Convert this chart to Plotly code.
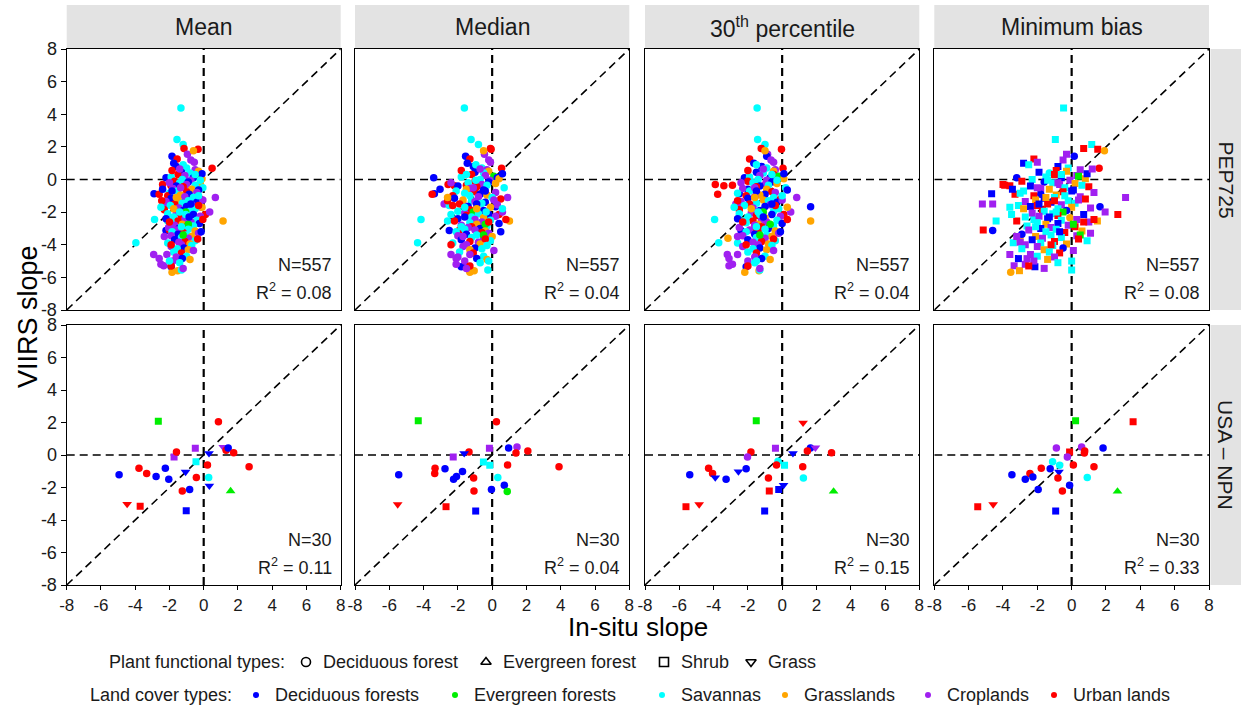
import plotly.graph_objects as go

# ---------------- data ----------------
methods = ["Mean", "Median", "30<sup>th</sup> percentile", "Minimum bias"]
networks = ["PEP725", "USA – NPN"]
n_labels = ["N=557", "N=557", "N=557", "N=557", "N=30", "N=30", "N=30", "N=30"]
r2_labels = ["0.08", "0.04", "0.04", "0.08", "0.11", "0.04", "0.15", "0.33"]
tick_vals = [-8, -6, -4, -2, 0, 2, 4, 6, 8]
tick_text = ["-8", "-6", "-4", "-2", "0", "2", "4", "6", "8"]

lc_names = ["Deciduous forests", "Evergreen forests", "Savannas", "Grasslands", "Croplands", "Urban lands"]
lc_colors = ["#0000FF", "#00EE00", "#00FFFF", "#FFA500", "#A020F0", "#FF0000"]
lc_codes = ["B", "G", "C", "O", "P", "R"]
pft_names = ["Deciduous forest", "Evergreen forest", "Shrub", "Grass"]
pft_codes = ["D", "E", "S", "G"]
pft_symbols = ["circle", "triangle-up", "square", "triangle-down"]

# PEP725 (VIIRS slope shared by the four panels)
pep_y = [4.39, 2.45, 2.15, 1.86, 1.90, 1.55, 1.43, 1.76, 1.25, 1.2,
         0.69, 1.0, 1.05, -3.88, -2.45, -2.55, -1.67, -0.88, -0.3, -0.39,
         -0.9, 0.1, -0.6, -4.6, -5.29, -5.35, -5.69, -5.59, -5.55, -4.85,
         -1.1, -2.14, -2.0, -3.6, -3.12, -3.1, -1.5, -1.5, -2.55, -0.35,
         0.8, 0.7, 0.6, 0.5, 0.45, 0.4, 0.3, 0.25, 0.2, 0.15,
         0.1, 0.05, 0.0, -0.05, 0.9, 0.55, 0.35, 0.65, -0.1, -0.15,
         -0.2, -0.25, -0.3, -0.35, -0.4, -0.45, -0.5, -0.55, -0.6, -0.65,
         -0.7, -0.75, -0.8, -0.85, -0.9, -0.95, -1.0, -0.05, -1.05, -1.1,
         -1.15, -1.2, -1.25, -1.3, -1.35, -1.4, -1.45, -1.5, -1.55, -1.6,
         -1.65, -1.7, -1.75, -1.8, -1.85, -1.9, -1.95, -2.0, -1.25, -1.6,
         -2.05, -2.1, -2.15, -2.2, -2.25, -2.3, -2.35, -2.4, -2.45, -2.5,
         -2.55, -2.6, -2.65, -2.7, -2.75, -2.8, -2.85, -2.9, -2.95, -3.0,
         -2.15, -2.75, -3.05, -3.1, -3.15, -3.2, -3.25, -3.3, -3.35, -3.4,
         -3.45, -3.5, -3.55, -3.6, -3.7, -3.75, -3.8, -3.85, -3.9, -3.95,
         -3.4, -3.65, -4.0, -4.05, -4.1, -4.2, -4.25, -4.3, -4.35, -4.45,
         -4.5, -4.6, -4.7, -4.75, -4.85, -4.9, -5.0, -5.1, -5.2, -5.3,
         -5.45, -5.0, -0.5, -0.7, -1.0, -1.3, -1.5, -1.8, -2.0, -2.3,
         -2.6, -2.9, -3.2, -1.1, -0.2, -2.45, 0.3, -1.7, -3.5, -4.0]
pep_lc = ("CCCRRPBORP" "RBPCCOBBRR" "RBBPPBOOCP" "PRPOBRPPCR" "BCPOBCRPGC"
          "BOCPCRBPRB" "COPCBRCPOB" "CRPCBORCPC" "BROCPBCRPC" "BOPCRBCGPR"
          "PCBRPCOBPC" "RPCBOPCRPB" "CGCPOCRPBC" "POCPBCRPCO" "GRPCPBCOPC"
          "RPCPBOPCPR" "PCPBCRBOCB" "RCBOPRCCPR")
pep_x_mean = [-1.33, -1.56, -1.2, -0.33, -1.15, -0.95, -1.85, -0.6, -1.55, -0.75,
              0.49, -1.75, -0.55, -3.96, -2.87, 1.13, -0.2, -2.9, -2.4, -1.9,
              -2.6, -2.2, -2.4, -2.92, -2.34, -1.9, -1.85, -1.52, -1.3, -2.6,
              0.68, 0.1, 0.35, -1.2, -2.2, -2.0, -1.6, -2.3, -2.1, -1.9,
              -1.6, -1.0, -0.5, -0.3, -1.3, -0.8, -1.5, -1.1, -0.4, -1.9,
              -0.6, -0.1, -1.25, -0.75, -1.2, -1.85, -0.1, -1.4, -1.7, -0.9,
              -1.4, -0.2, -1.0, -0.5, -1.6, -1.2, -0.05, -1.8, -0.7, -0.3,
              -1.55, -1.0, -0.4, -2.0, -0.85, -1.35, -2.1, -0.2, -1.1, -0.6,
              -1.9, -0.2, -1.5, -0.9, -2.2, -0.4, -1.25, -1.7, -0.7, -1.95,
              -1.0, -0.1, -1.45, -0.5, -2.3, -1.2, -0.8, -1.05, -0.05, -0.3,
              -1.6, -2.1, -0.6, -1.3, -0.2, -1.75, -0.9, -2.2, -1.1, -0.4,
              -1.5, -0.75, -1.9, -0.25, -1.25, -1.7, -0.6, -1.0, -2.05, -1.45,
              -1.05, -0.9, -0.9, -1.6, -0.5, -1.85, -1.2, -0.3, -1.5, -1.0,
              -1.9, -0.7, -1.3, -0.9, -1.7, -0.5, -1.1, -1.45, -2.1, -0.8,
              -1.2, -0.35, -1.3, -0.7, -1.9, -1.15, -1.55, -0.9, -0.6, -1.75,
              -1.3, -2.15, -1.0, -1.6, -1.25, -0.8, -1.8, -1.4, -2.5, -1.9,
              -1.2, -2.0, -1.35, -1.85, -0.3, -2.45, -0.75, -1.75, -1.4, -0.85,
              -2.0, -1.3, -0.15, -1.6, -2.0, -0.05, -0.5, -2.5, -2.3, -1.9]
pep_x_median = [-1.62, -1.23, -0.8, -0.06, -0.10, -0.45, -1.55, -0.5, -1.3, -0.2,
                0.55, -1.45, -0.1, -4.35, -4.15, 1.01, 0.2, -3.37, -2.57, -2.2,
                -3.5, -3.41, -3.04, -2.4, -1.55, -1.8, -1.3, -1.05, -0.25, -2.1,
                0.9, 0.4, 0.6, -0.3, -2.5, -1.9, -2.8, -1.7, -2.6, -1.5,
                -1.1, -0.6, -0.3, -0.2, -1.0, -0.5, -1.2, -0.4, 0.1, -1.8,
                0.3, 0.4, -0.7, -0.15, -0.95, -1.8, 0.6, -0.7, -1.0, -0.2,
                -1.4, 0.2, -0.6, -0.3, -2.0, -0.9, 0.7, -1.3, -1.5, -0.5,
                -2.1, -1.0, 0.2, -1.6, -0.7, -0.3, -2.3, -0.95, -0.8, 0.0,
                -2.2, 0.5, -1.7, -1.2, -1.0, -0.4, -0.6, -1.9, 0.3, -2.5,
                -1.4, -0.1, -0.9, 0.6, -1.3, -0.5, -2.0, -1.1, 0.1, -2.3,
                -1.6, -0.8, -0.2, -1.5, 0.2, -1.2, -0.5, -2.0, -1.0, -0.1,
                -2.2, -0.6, -1.3, 0.4, -0.9, -1.8, -0.3, -1.2, -1.4, -0.7,
                -2.4, -0.4, -1.6, -1.0, -0.4, -2.1, -0.6, -0.2, -1.5, -0.9,
                -2.0, 0.0, -1.2, -0.5, -1.8, -0.1, -1.3, -0.8, -2.3, -0.7,
                -0.5, -0.4, -1.5, -0.3, -1.7, -1.0, -0.6, -1.3, 0.1, -1.9,
                -1.1, -1.3, -0.5, -2.0, -0.9, -0.3, -1.6, -0.7, -2.1, -1.3,
                -1.5, -0.2, -1.1, -0.4, -1.3, -2.6, -0.9, -0.9, -0.35, -1.6,
                -0.2, -1.8, 0.5, -2.6, -2.4, 0.8, -1.5, -1.6, -1.7, -2.4]
pep_x_p30 = [-1.46, -1.43, -1.0, -0.04, -1.22, -0.85, -0.9, -1.0, -1.9, -0.65,
             0.05, -1.65, -0.5, -3.7, -3.94, 1.66, 1.66, -2.5, -3.9, -3.4,
             -3.76, -2.2, -2.0, -3.2, -3.1, -2.1, -2.18, -1.35, -1.3, -3.1,
             0.85, 0.1, 0.5, -3.16, -2.4, -1.7, -2.7, -2.4, -2.3, -2.9,
             -1.2, -0.9, -0.4, -0.5, -1.5, -1.1, -0.5, -1.3, -0.2, -1.9,
             -0.7, 0.1, -1.4, -0.9, -1.5, -2.0, 0.1, -1.1, -2.0, -0.6,
             -1.7, -0.3, -1.0, -0.8, -1.3, -1.5, 0.2, -2.3, -0.9, 0.3,
             -1.9, -0.6, -0.4, -2.6, -1.0, -1.3, -2.1, -0.3, -1.6, -0.5,
             -2.0, -0.1, -1.1, -0.8, -2.4, -0.3, -1.5, -1.9, -0.7, -2.2,
             -1.0, 0.3, -1.7, -0.2, -2.5, -1.3, -0.5, -1.1, 0.0, -0.4,
             -1.8, -2.5, -0.6, -1.5, -0.1, -2.0, -1.0, -2.6, -1.2, -0.3,
             -1.7, -0.9, -2.1, 0.0, -1.4, -1.6, -0.5, -1.2, -2.5, -0.8,
             -1.3, -0.7, -1.0, -1.9, -0.4, -2.1, -1.4, -0.2, -1.6, -0.9,
             -2.3, -0.6, -1.5, -1.0, -2.0, -0.4, -1.2, -1.7, -2.6, -0.8,
             -1.3, -0.5, -1.4, -0.6, -2.3, -1.3, -1.7, -0.9, -0.5, -2.0,
             -1.5, -2.6, -1.0, -1.6, -1.2, -0.7, -2.0, -1.6, -2.9, -2.0,
             -1.3, -1.5, -1.6, -1.5, 0.0, -2.6, -0.6, -1.8, -1.4, -1.1,
             -2.3, -1.5, -0.1, -1.6, -2.4, 0.3, -0.6, -2.8, -2.6, -2.1]
pep_x_minbias = [-0.47, -0.95, 1.17, 1.52, 0.70, -0.3, 0.15, 1.91, -2.2, -0.5,
                 1.6, -2.8, -2.0, -3.4, -2.2, 1.5, 1.65, -4.66, -4.0, -3.6,
                 -3.3, -3.2, -3.45, -3.6, -3.35, -2.14, -3.55, -3.04, 0.0, -2.6,
                 3.14, 2.69, 1.95, -3.0, -4.6, -5.15, -5.2, -4.6, -4.4, -3.9,
                 -0.8, -0.2, 0.5, -0.3, -1.9, -1.3, -1.0, 0.3, 0.4, -1.5,
                 -0.6, 0.8, -2.3, -0.1, -2.5, -0.9, 0.9, 1.2, -2.9, -1.6,
                 -1.1, 0.2, -0.7, 0.6, -2.4, 1.0, -0.4, -1.8, -1.3, 0.1,
                 -2.8, -0.5, 1.3, -3.0, -1.8, -0.9, -2.2, -1.4, 0.5, -1.0,
                 -1.6, 0.8, -2.1, -0.2, -2.7, -1.2, 0.2, -1.4, -0.6, -3.1,
                 -2.4, 0.0, 1.1, -0.8, -1.7, -0.3, -1.6, -0.5, 0.4, -2.0,
                 -2.3, -1.1, 0.7, -0.8, -1.9, -2.7, -0.1, -1.4, 0.3, -0.6,
                 -3.2, 1.0, -2.0, -0.8, -1.5, -0.2, -2.6, 0.2, -1.2, -1.8,
                 -3.5, 0.1, -0.9, -2.5, 0.6, -1.5, -0.4, 1.1, -2.9, -1.2,
                 0.3, -2.1, -0.6, -1.7, -2.3, 0.9, -1.0, -3.0, -1.8, -0.3,
                 0.5, 0.4, -2.7, -1.1, -2.0, -0.5, -2.9, -1.6, 0.1, -1.3,
                 -0.7, -2.4, -2.0, -1.0, -3.1, -1.4, -2.2, -0.8, -2.7, -2.5,
                 -1.6, 0.0, -2.0, 0.0, -0.4, -1.0, -1.9, -2.8, -0.9, -1.3,
                 0.7, -2.1, -0.7, -1.5, -0.8, 1.3, -0.6, -3.6, -3.2, -1.2]
# points drawn as circles (the rest squares) in the PEP725 minimum-bias panel
pep_minbias_circles = [6, 7, 10, 16, 21, 26, 34, 45, 59, 74, 95, 106, 128, 145]

# USA-NPN: x, y, land cover, plant functional type (one list set per method)
npn_mean_x = [-2.65, 0.86, -0.49, -1.73, -1.59, 0.31, 1.14, 1.31, 1.43, 1.75, -0.45, 0.22, 2.65, -3.78, -2.24,
              -3.33, -4.94, -2.78, -1.06, -2.04, -0.43, 0.29, 0.33, -1.25, -0.82, 1.57, -4.47, -3.71, -1.02]
npn_mean_y = [2.08, 2.04, 0.41, -0.12, 0.18, 0.10, 0.49, 0.29, 0.43, 0.14, -0.41, -0.61, -0.73, -0.82, -0.82,
              -1.14, -1.22, -1.33, -1.04, -1.49, -1.39, -1.39, -1.90, -2.22, -2.12, -2.22, -3.02, -3.16, -3.43]
npn_mean_lc = "GRPPRBPRBRCRRRBRBBBBRCBRBGRRB"
npn_mean_pft = "SDSSDGGDDDSDDDDDDDGDDDGDDEGSS"

npn_median_x = [-4.31, 0.25, -0.16, 0.96, 1.45, 2.08, 1.39, -1.35, -1.63, -2.27, -0.51, -0.14, 0.90, 3.90, -2.75,
                -3.33, -3.35, -5.45, -1.73, -2.08, -2.25, -1.08, 0.33, 0.71, -0.04, -1.06, 0.88, -5.51, -2.69, -0.96]
npn_median_y = [2.10, 2.04, 0.41, 0.43, 0.49, 0.24, 0.12, 0.18, 0.10, -0.12, -0.43, -0.63, -0.61, -0.73, -0.84,
                -0.82, -1.14, -1.22, -1.02, -1.33, -1.49, -1.41, -1.39, -1.86, -2.12, -2.22, -2.24, -3.04, -3.18, -3.45]
npn_median_lc = "GRPBPRRRBPCCRRBRRBBBBRCBBRGRRB"
npn_median_pft = "SDSDDDDDGSSSDDDDDDDDDDDDDDDGSS"

npn_p30_x = [-1.51, 1.22, -0.39, 1.65, 1.94, 1.47, 2.88, -1.82, 0.63, -2.02, -0.24, -0.33, 0.14, 1.20, -4.29,
             -2.10, -4.06, -5.39, -3.90, -3.27, -2.55, -0.80, 1.24, 0.08, -0.20, -0.75, 3.00, -5.61, -4.84, -1.02]
npn_p30_y = [2.10, 1.98, 0.41, 0.43, 0.45, 0.24, 0.14, 0.18, 0.10, -0.12, -0.39, -0.61, -0.63, -0.73, -0.82,
             -0.84, -1.14, -1.22, -1.39, -1.49, -1.02, -1.41, -1.41, -1.86, -2.12, -2.22, -2.24, -3.18, -3.04, -3.45]
npn_p30_lc = "GRPBPRRRBPCRCRRBRBBBBRCBBRGRRB"
npn_p30_pft = "SGSDGDDDGDDDSDDDDDGDGDDGSSESGS"

npn_minbias_x = [0.23, 3.58, -0.89, 0.58, 1.83, 0.76, 0.74, -0.12, -0.25, -1.11, -0.70, 0.10, 1.30, -1.77, -1.25,
                 -0.74, -3.48, -2.43, -2.26, -2.70, -0.80, 0.91, -0.12, -1.95, -0.54, 2.67, -5.47, -4.57, -0.93]
npn_minbias_y = [2.10, 2.04, 0.43, 0.49, 0.43, 0.24, 0.12, 0.18, -0.12, -0.41, -0.63, -0.61, -0.73, -0.82, -0.84,
                 -1.04, -1.22, -1.14, -1.35, -1.49, -1.41, -1.39, -1.86, -2.12, -2.22, -2.24, -3.18, -3.04, -3.45]
npn_minbias_lc = "GRPPBRRRPCCRRRBBBRBBRCBBRGRRB"
npn_minbias_pft = "SSDDDDDSDDDDDDDGDDDDDDDDDESGS"

# ---------------- layout geometry (pixels) ----------------
W, H = 1241, 710
FONT = "Liberation Sans, Arial, sans-serif"
TXT = "#1a1a1a"
col_px = [(66.7, 340.7), (355.0, 629.3), (645.0, 919.3), (934.3, 1209.0)]
row_px = [(49.0, 310.0), (325.0, 585.0)]

# bottom legend layout (pixel positions of symbols, text starts after them)
leg1_y, leg2_y = 662, 695
leg1_title_end, leg2_title_end = 287, 234
leg1_sym_x = [306, 486, 664, 751]
leg2_sym_x = [256, 455, 662, 785, 928, 1054]


def fx(px):
    return px / W


def fy(py):
    return 1 - py / H


color_of = dict(zip(lc_codes, lc_colors))
symbol_of = dict(zip(pft_codes, pft_symbols))
size_of = {"circle": 7.5, "square": 7, "triangle-up": 8.5, "triangle-down": 8.5}

fig = go.Figure()
layout = dict(width=W, height=H, margin=dict(l=0, r=0, t=0, b=0, pad=0, autoexpand=False),
              paper_bgcolor="white", plot_bgcolor="rgba(0,0,0,0)",
              font=dict(family=FONT, color=TXT), showlegend=False)
shapes, annotations = [], []

pep_xs = [pep_x_mean, pep_x_median, pep_x_p30, pep_x_minbias]
npn_sets = [(npn_mean_x, npn_mean_y, npn_mean_lc, npn_mean_pft),
            (npn_median_x, npn_median_y, npn_median_lc, npn_median_pft),
            (npn_p30_x, npn_p30_y, npn_p30_lc, npn_p30_pft),
            (npn_minbias_x, npn_minbias_y, npn_minbias_lc, npn_minbias_pft)]

for r in range(2):
    for c in range(4):
        k = r * 4 + c + 1
        xa = "x" if k == 1 else f"x{k}"
        ya = "y" if k == 1 else f"y{k}"
        xkey = "xaxis" if k == 1 else f"xaxis{k}"
        ykey = "yaxis" if k == 1 else f"yaxis{k}"
        bottom = r == 1
        left = c == 0
        layout[xkey] = dict(domain=[fx(col_px[c][0]), fx(col_px[c][1])], anchor=ya,
                            range=[-8, 8], tickvals=tick_vals, ticktext=tick_text,
                            showgrid=False, zeroline=False, fixedrange=True,
                            showline=True, mirror=True, linecolor="black", linewidth=1.4,
                            ticks="outside" if bottom else "", ticklen=4, tickwidth=1, tickcolor="black",
                            showticklabels=bottom, tickfont=dict(size=17, color=TXT))
        layout[ykey] = dict(domain=[fy(row_px[r][1]), fy(row_px[r][0])], anchor=xa,
                            range=[-8, 8], tickvals=tick_vals, ticktext=tick_text,
                            showgrid=False, zeroline=False, fixedrange=True,
                            showline=True, mirror=True, linecolor="black", linewidth=1.4,
                            ticks="outside" if left else "", ticklen=5, tickwidth=1, tickcolor="black",
                            showticklabels=left, tickfont=dict(size=18, color=TXT))
        # reference lines
        dash = "8px,5px"
        shapes.append(dict(type="line", xref=xa, yref=ya, x0=0, x1=0, y0=-8, y1=8, layer="below",
                           line=dict(color="black", width=2.2, dash=dash)))
        shapes.append(dict(type="line", xref=xa, yref=ya, x0=-8, x1=8, y0=0, y1=0, layer="below",
                           line=dict(color="black", width=1.6, dash=dash)))
        shapes.append(dict(type="line", xref=xa, yref=ya, x0=-8, x1=8, y0=-8, y1=8, layer="below",
                           line=dict(color="black", width=1.6, dash=dash)))
        # points
        if r == 0:
            xs = pep_xs[c]
            ys = pep_y
            cols = [color_of[ch] for ch in pep_lc]
            if c == 3:
                syms = ["circle" if i in pep_minbias_circles else "square" for i in range(len(ys))]
            else:
                syms = ["circle"] * len(ys)
        else:
            xs, ys, lcs, pfts = npn_sets[c]
            cols = [color_of[ch] for ch in lcs]
            syms = [symbol_of[ch] for ch in pfts]
        sizes = [size_of[s] for s in syms]
        fig.add_trace(go.Scatter(x=xs, y=ys, xaxis=xa, yaxis=ya, mode="markers", showlegend=False,
                                 hoverinfo="skip",
                                 marker=dict(color=cols, symbol=syms, size=sizes, opacity=1,
                                             line=dict(width=0))))
        # N and R2 labels
        annotations.append(dict(text=n_labels[k - 1], xref=f"{xa} domain", yref=f"{ya} domain",
                                x=0.975, y=0.172, xanchor="right", yanchor="middle", showarrow=False,
                                font=dict(size=18, color=TXT)))
        annotations.append(dict(text="R<sup>2</sup> = " + r2_labels[k - 1], xref=f"{xa} domain",
                                yref=f"{ya} domain", x=0.975, y=0.07, xanchor="right", yanchor="middle",
                                showarrow=False, font=dict(size=18, color=TXT)))

# strips
STRIP = "#e3e3e3"
for c in range(4):
    shapes.append(dict(type="rect", xref="paper", yref="paper", x0=fx(col_px[c][0]), x1=fx(col_px[c][1]),
                       y0=fy(48), y1=fy(5), fillcolor=STRIP, line=dict(width=0), layer="below"))
    annotations.append(dict(text=methods[c], xref="paper", yref="paper",
                            x=fx((col_px[c][0] + col_px[c][1]) / 2), y=fy(27), xanchor="center",
                            yanchor="middle", showarrow=False, font=dict(size=23, color=TXT)))
for r in range(2):
    shapes.append(dict(type="rect", xref="paper", yref="paper", x0=fx(1210.5), x1=fx(1241),
                       y0=fy(row_px[r][1]), y1=fy(row_px[r][0]), fillcolor=STRIP, line=dict(width=0),
                       layer="below"))
    annotations.append(dict(text=networks[r], xref="paper", yref="paper", x=fx(1226),
                            y=fy((row_px[r][0] + row_px[r][1]) / 2), xanchor="center", yanchor="middle",
                            textangle=90, showarrow=False, font=dict(size=21, color=TXT)))

# axis titles
annotations.append(dict(text="VIIRS slope", xref="paper", yref="paper", x=fx(28), y=fy(317),
                        xanchor="center", yanchor="middle", textangle=-90, showarrow=False,
                        font=dict(size=27, color="black")))
annotations.append(dict(text="In-situ slope", xref="paper", yref="paper", x=fx(638), y=fy(627),
                        xanchor="center", yanchor="middle", showarrow=False,
                        font=dict(size=26, color="black")))

# ---------------- bottom legend (overlay axis in pixel units) ----------------
layout["xaxis9"] = dict(domain=[0, 1], range=[0, W], visible=False, fixedrange=True, anchor="y9")
layout["yaxis9"] = dict(domain=[0, 1], range=[H, 0], visible=False, fixedrange=True, anchor="x9")
fig.add_trace(go.Scatter(x=leg1_sym_x, y=[leg1_y] * len(leg1_sym_x), xaxis="x9", yaxis="y9",
                         mode="markers", hoverinfo="skip", showlegend=False,
                         marker=dict(symbol=[s + "-open" for s in pft_symbols], color="black", size=9,
                                     opacity=1, line=dict(width=1.6, color="black"))))
fig.add_trace(go.Scatter(x=leg2_sym_x, y=[leg2_y] * len(leg2_sym_x), xaxis="x9", yaxis="y9",
                         mode="markers", hoverinfo="skip", showlegend=False,
                         marker=dict(symbol="circle", color=lc_colors, size=6, opacity=1)))
annotations.append(dict(text="Plant functional types:", xref="paper", yref="paper", x=fx(leg1_title_end),
                        y=fy(leg1_y), xanchor="right", yanchor="middle", showarrow=False,
                        font=dict(size=18, color=TXT)))
for sx, name in zip(leg1_sym_x, pft_names):
    annotations.append(dict(text=name, xref="paper", yref="paper", x=fx(sx + 15), y=fy(leg1_y),
                            xanchor="left", yanchor="middle", showarrow=False,
                            font=dict(size=18, color=TXT)))
annotations.append(dict(text="Land cover types:", xref="paper", yref="paper", x=fx(leg2_title_end),
                        y=fy(leg2_y), xanchor="right", yanchor="middle", showarrow=False,
                        font=dict(size=18, color=TXT)))
for sx, name in zip(leg2_sym_x, lc_names):
    annotations.append(dict(text=name, xref="paper", yref="paper", x=fx(sx + 17), y=fy(leg2_y),
                            xanchor="left", yanchor="middle", showarrow=False,
                            font=dict(size=18, color=TXT)))

layout["shapes"] = shapes
layout["annotations"] = annotations
fig.update_layout(**layout)
fig.write_html("out.html")
